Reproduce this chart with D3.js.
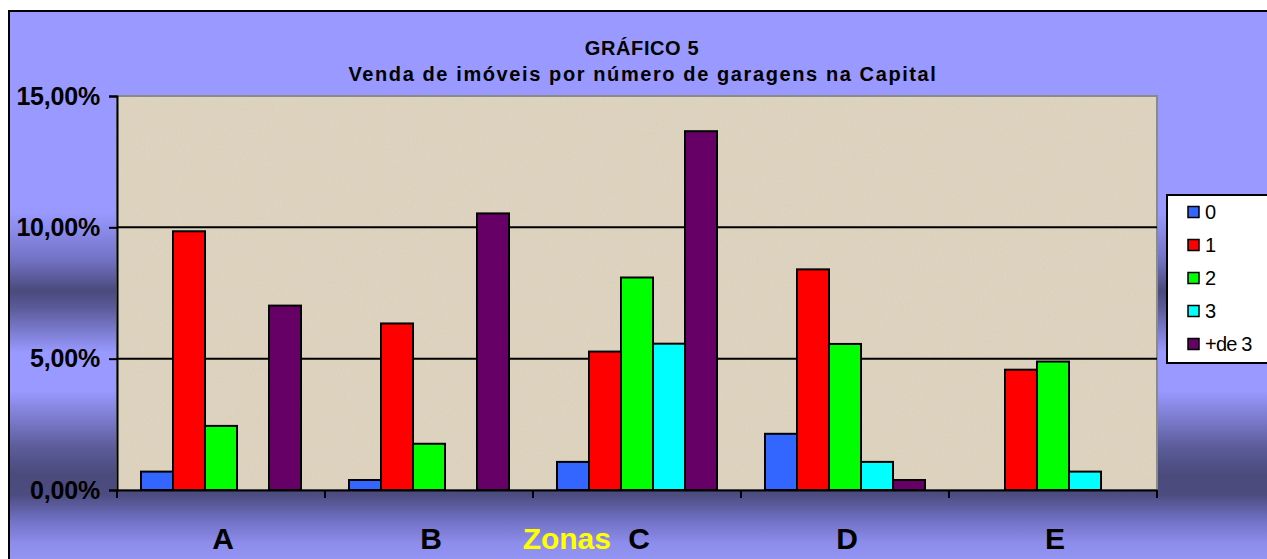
<!DOCTYPE html>
<html>
<head>
<meta charset="utf-8">
<script src="https://cdn.jsdelivr.net/npm/d3@7"></script>
<style>
  html, body { margin: 0; padding: 0; background: #ffffff; }
  svg { display: block; }
  text { font-family: "Liberation Sans", Arial, sans-serif; }
</style>
</head>
<body>
<svg id="chart" width="1267" height="559"></svg>
<script>
// ---- data ----
const categories = ["A", "B", "C", "D", "E"];
const seriesNames = ["0", "1", "2", "3", "+de 3"];
const seriesColors = ["#3366ff", "#ff0000", "#00ff00", "#00ffff", "#660066"];
const garagem0 = [0.70, 0.38, 1.07, 2.14, 0];
const garagem1 = [9.85, 6.34, 5.27, 8.40, 4.58];
const garagem2 = [2.44, 1.76, 8.09, 5.56, 4.89];
const garagem3 = [0, 0, 5.57, 1.07, 0.70];
const garagemMais3 = [7.02, 10.53, 13.66, 0.38, 0];
const yTicks = [0, 5, 10, 15];
const titleLine1 = "GRÁFICO 5";
const titleLine2 = "Venda de imóveis por número de garagens na Capital";
const axisTitle = "Zonas";

const seriesValues = [garagem0, garagem1, garagem2, garagem3, garagemMais3];

const W = 1267, H = 559;
const plot = { left: 117, right: 1157, top: 96, bottom: 490 };

const svg = d3.select("#chart");
const defs = svg.append("defs");

// background gradient of chart area (relative to frame from y=11 to y=579)
const grad = defs.append("linearGradient").attr("id", "bg")
  .attr("gradientUnits", "userSpaceOnUse")
  .attr("x1", 0).attr("y1", 0).attr("x2", 0).attr("y2", 559);
[[0, "#9999ff"], [0.38, "#9999ff"], [0.465, "#7272c4"], [0.52, "#4a4a7c"],
 [0.55, "#5a5a98"], [0.63, "#9999ff"], [0.70, "#9999ff"], [0.80, "#5c5c9a"],
 [0.85, "#4a4a7c"], [0.885, "#4c4c80"], [0.93, "#7070c4"], [0.97, "#8c8cea"], [1, "#9494f4"]]
 .forEach(([o, c]) => grad.append("stop").attr("offset", o).attr("stop-color", c));

// subtle texture for plot area
const f = defs.append("filter").attr("id", "tex").attr("x", 0).attr("y", 0).attr("width", 1).attr("height", 1);
f.append("feTurbulence").attr("type", "fractalNoise").attr("baseFrequency", "0.9 0.6").attr("numOctaves", 2).attr("seed", 3).attr("result", "n");
f.append("feColorMatrix").attr("in", "n").attr("type", "matrix")
  .attr("values", "0 0 0 0 0.55  0 0 0 0 0.5  0 0 0 0 0.42  0 0 0 -0.9 0.55");

// outer chart frame
svg.append("rect").attr("x", 9).attr("y", 11).attr("width", W + 20).attr("height", H + 20)
  .attr("fill", "url(#bg)").attr("stroke", "#000").attr("stroke-width", 2);

// scales
const x = d3.scaleBand().domain(categories).range([plot.left, plot.right]).paddingInner(0).paddingOuter(0);
const xs = d3.scaleBand().domain(seriesNames).range([0, x.bandwidth()]).paddingInner(0).paddingOuter(0.75);
const y = d3.scaleLinear().domain([0, 15]).range([plot.bottom, plot.top]);

// plot area
svg.append("rect").attr("x", plot.left).attr("y", plot.top)
  .attr("width", plot.right - plot.left).attr("height", plot.bottom - plot.top)
  .attr("fill", "#ddd3bf").attr("stroke", "#8a8a8a").attr("stroke-width", 2);
svg.append("rect").attr("x", plot.left + 1).attr("y", plot.top + 1)
  .attr("width", plot.right - plot.left - 2).attr("height", plot.bottom - plot.top - 2)
  .attr("filter", "url(#tex)").attr("opacity", 0.35);

// gridlines
svg.append("g").selectAll("line").data(yTicks.filter(t => t > 0 && t < 15)).join("line")
  .attr("x1", plot.left).attr("x2", plot.right)
  .attr("y1", d => y(d)).attr("y2", d => y(d))
  .attr("stroke", "#000").attr("stroke-width", 2);

// bars
const groups = svg.append("g").selectAll("g").data(seriesNames).join("g")
  .attr("fill", (d, i) => seriesColors[i]);
groups.selectAll("rect")
  .data((s, i) => categories.map((c, j) => ({ c, s, v: seriesValues[i][j] })).filter(d => d.v > 0))
  .join("rect")
  .attr("x", d => x(d.c) + xs(d.s))
  .attr("width", xs.bandwidth())
  .attr("y", d => y(d.v))
  .attr("height", d => y(0) - y(d.v))
  .attr("stroke", "#000").attr("stroke-width", 2);

// y axis
const yAxis = d3.axisLeft(y).tickValues(yTicks).tickSize(8).tickPadding(9)
  .tickFormat(d => d3.format(".2f")(d).replace(".", ",") + "%");
const ya = svg.append("g").attr("transform", `translate(${plot.left},0)`).call(yAxis);
ya.select(".domain").attr("stroke", "#000").attr("stroke-width", 2);
ya.selectAll(".tick line").attr("stroke", "#000").attr("stroke-width", 2);
ya.selectAll(".tick text").attr("fill", "#000").attr("font-size", 25).attr("font-weight", "bold")
  .attr("font-family", "Liberation Sans, Arial, sans-serif").attr("letter-spacing", -0.2);

// x axis
const xAxis = d3.axisBottom(x).tickSize(0).tickFormat("");
const xa = svg.append("g").attr("transform", `translate(0,${plot.bottom})`).call(xAxis);
xa.select(".domain").attr("stroke", "#000").attr("stroke-width", 2);
xa.selectAll(".tick").remove();
const boundaries = categories.map(c => x(c)).concat([plot.right]);
xa.selectAll("line.sep").data(boundaries).join("line").attr("class", "sep")
  .attr("x1", d => d).attr("x2", d => d).attr("y1", 0).attr("y2", 8)
  .attr("stroke", "#000").attr("stroke-width", 2);
svg.append("g").selectAll("text").data(categories).join("text")
  .attr("x", d => x(d) + x.bandwidth() / 2 + 2)
  .attr("y", 549)
  .attr("text-anchor", "middle")
  .attr("font-size", 30).attr("font-weight", "bold").attr("fill", "#000")
  .text(d => d);

// axis title
svg.append("text").attr("x", 611).attr("y", 549).attr("text-anchor", "end")
  .attr("font-size", 30).attr("font-weight", "bold").attr("fill", "#ffff00")
  .text(axisTitle);

// title
svg.append("text").attr("x", 642).attr("y", 55).attr("text-anchor", "middle")
  .attr("font-size", 20).attr("font-weight", "bold").attr("letter-spacing", 0.6).attr("fill", "#000")
  .text(titleLine1);
svg.append("text").attr("x", 643).attr("y", 81).attr("text-anchor", "middle")
  .attr("font-size", 20).attr("font-weight", "bold").attr("letter-spacing", 1.6).attr("fill", "#000")
  .text(titleLine2);

// legend
const lg = svg.append("g");
lg.append("rect").attr("x", 1167).attr("y", 195).attr("width", 110).attr("height", 168)
  .attr("fill", "#fff").attr("stroke", "#000").attr("stroke-width", 2);
const ly = d3.scalePoint().domain(seriesNames).range([212, 344]);
const li = lg.selectAll("g.item").data(seriesNames).join("g").attr("class", "item");
li.append("rect").attr("x", 1188).attr("y", d => ly(d) - 5.5).attr("width", 11).attr("height", 11)
  .attr("fill", (d, i) => seriesColors[i]).attr("stroke", "#000").attr("stroke-width", 1.5);
li.append("text").attr("x", 1205).attr("y", d => ly(d) + 7)
  .attr("font-size", 20).attr("fill", "#000").attr("letter-spacing", -0.8)
  .text(d => d);
</script>
</body>
</html>
